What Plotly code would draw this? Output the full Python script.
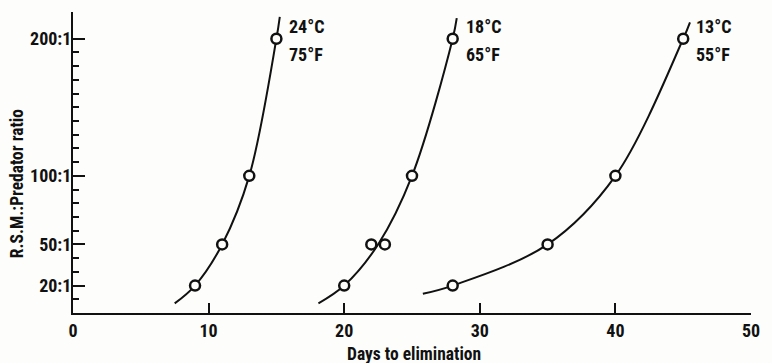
import plotly.graph_objects as go

# Observed days to elimination at each R.S.M.:predator ratio
ratio_ticks = [20, 50, 100, 200]
ratio_labels = ["20:1", "50:1", "100:1", "200:1"]
ratio_minor = list(range(10, 201, 10))
day_ticks = [0, 10, 20, 30, 40, 50]

days_24 = [9, 11, 13, 15]
ratio_24 = [20, 50, 100, 200]

days_18 = [20, 22, 23, 25, 28]
ratio_18 = [20, 50, 50, 100, 200]

days_13 = [28, 35, 40, 45]
ratio_13 = [20, 50, 100, 200]

# Hand-fitted trend curves (nodes of each smooth line)
curve_24_x = [7.5, 9, 11, 13, 15, 15.25]
curve_24_y = [7, 20, 50, 100, 200, 216]

curve_18_x = [18.1, 20, 22.5, 25, 28, 28.3]
curve_18_y = [7, 20, 50, 100, 200, 215]

curve_13_x = [25.8, 28, 35, 40, 45, 45.5]
curve_13_y = [14, 20, 50, 100, 200, 212]

temps_c = ["24°C", "18°C", "13°C"]
temps_f = ["75°F", "65°F", "55°F"]

FONT = ("Roboto Condensed, Open Sans Condensed, Liberation Sans Narrow, "
        "Liberation Sans, Arial, sans-serif")
INK = "#111111"
BG = "#fdfdfb"
Y_RANGE = [0, 219.5]

fig = go.Figure()

series = [
    (curve_24_x, curve_24_y, days_24, ratio_24),
    (curve_18_x, curve_18_y, days_18, ratio_18),
    (curve_13_x, curve_13_y, days_13, ratio_13),
]

for cx, cy, dx, dy in series:
    fig.add_trace(go.Scatter(
        x=cx, y=cy, mode="lines",
        line=dict(color=INK, width=2, shape="spline", smoothing=1.0),
        hoverinfo="skip", showlegend=False,
    ))
for cx, cy, dx, dy in series:
    fig.add_trace(go.Scatter(
        x=dx, y=dy, mode="markers", yaxis="y2",
        marker=dict(symbol="circle", size=10, color=BG,
                    line=dict(color=INK, width=2.5)),
        showlegend=False,
    ))

# Temperature labels beside the top point of each curve
label_font = dict(family=FONT, size=18, color=INK, weight="bold")
for (cx, cy, dx, dy), tc, tf in zip(series, temps_c, temps_f):
    fig.add_annotation(x=dx[-1], y=dy[-1], text=tc, showarrow=False,
                       xanchor="left", yanchor="middle", xshift=11, yshift=12,
                       font=label_font)
    fig.add_annotation(x=dx[-1], y=dy[-1], text=tf, showarrow=False,
                       xanchor="left", yanchor="middle", xshift=11, yshift=-16,
                       font=label_font)

# Axis titles
title_font = dict(family=FONT, size=17.5, color=INK, weight="bold")
fig.add_annotation(xref="paper", yref="paper", x=-0.083, y=0.43,
                   xanchor="center", yanchor="middle",
                   text="R.S.M.:Predator ratio", textangle=-90, showarrow=False,
                   font=title_font)
fig.add_annotation(xref="paper", yref="paper", x=0.503, y=-0.136,
                   xanchor="center", yanchor="middle",
                   text="Days to elimination", showarrow=False,
                   font=title_font)

tick_font = dict(family=FONT, size=18, color=INK, weight="bold")

fig.update_layout(
    width=772, height=363,
    margin=dict(l=73, r=12, t=12, b=50),
    paper_bgcolor=BG, plot_bgcolor=BG,
    xaxis=dict(
        range=[0, 50], tickvals=day_ticks, ticktext=[str(v) for v in day_ticks],
        showline=True, linecolor=INK, linewidth=2,
        ticks="inside", ticklen=10, tickwidth=2, tickcolor=INK,
        showgrid=False, zeroline=False, tickfont=tick_font,
    ),
    # short ticks every 10 units, labels only at the main ratios
    yaxis=dict(
        range=Y_RANGE, tickvals=ratio_minor,
        ticktext=[ratio_labels[ratio_ticks.index(v)] if v in ratio_ticks else ""
                  for v in ratio_minor],
        showline=True, linecolor=INK, linewidth=2,
        ticks="inside", ticklen=6, tickwidth=2, tickcolor=INK,
        ticklabelstandoff=-4,
        showgrid=False, zeroline=False, tickfont=tick_font,
    ),
    # long ticks at the labelled ratios
    yaxis2=dict(
        range=Y_RANGE, overlaying="y", side="left", anchor="x",
        tickvals=ratio_ticks, showticklabels=False,
        ticks="inside", ticklen=12, tickwidth=2, tickcolor=INK,
        showline=False, showgrid=False, zeroline=False,
    ),
)

fig.write_html("out.html")
